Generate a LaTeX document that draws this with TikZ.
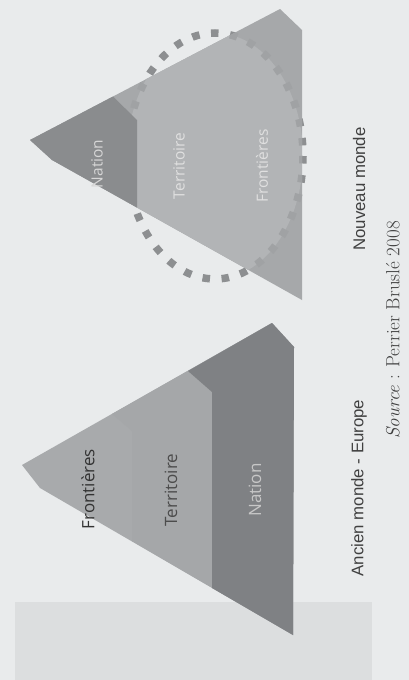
\documentclass[tikz,border=0pt]{standalone}
\usepackage{fontspec}
\newfontfamily\lblfont{Open Sans}
\newfontfamily\capfont{Liberation Sans}
\definecolor{bgc}{HTML}{E9EBEC}
\definecolor{rectc}{HTML}{DCDEDF}
\definecolor{lfr}{HTML}{A8AAAC}
\definecolor{lte}{HTML}{A5A7A9}
\definecolor{lna}{HTML}{7F8184}
\definecolor{rna}{HTML}{8A8C8E}
\definecolor{rte}{HTML}{B2B4B6}
\definecolor{rfr}{HTML}{A6A8AA}
\definecolor{dotout}{HTML}{8D8F91}
\definecolor{dotin}{HTML}{A0A2A4}
\begin{document}
\begin{tikzpicture}[x=1pt,y=-1pt,
  lbl/.style={rotate=90, inner sep=0pt, font=\lblfont\fontsize{17}{17}\selectfont},
  rlbl/.style={rotate=90, inner sep=0pt, font=\lblfont\fontsize{15.5}{15.5}\selectfont},
  captxt/.style={rotate=90, inner sep=0pt, text=black!75, font=\capfont\fontsize{16.8}{16.8}\selectfont},
  dots/.style={line width=7.5pt, dash pattern=on 7.5pt off 11.6pt}]
\useasboundingbox (0,0) rectangle (409,680);
\fill[bgc] (0,0) rectangle (409,680);
\fill[rectc] (15,602) rectangle (372,680);
% ---- left triangle (Ancien monde)
\fill[lfr] (22,465) -- (272,323) -- (294,347) -- (293,635) -- (40,488) -- cycle;
\fill[lte] (112,414) -- (132,431) -- (132,541) -- (293,635) -- (294,347) -- (272,323) -- cycle;
\fill[lna] (188,371) -- (212,392) -- (212,588) -- (293,635) -- (294,347) -- (272,323) -- cycle;
% ---- right triangle (Nouveau monde)
\draw[dots, dotout] (215,156) ellipse [x radius=88, y radius=123];
\fill[rfr] (30,140) -- (280,9) -- (302,30) -- (302,300) -- (52,160) -- cycle;
\begin{scope}
  \clip (30,140) -- (280,9) -- (302,30) -- (302,300) -- (52,160) -- cycle;
  \fill[rte] (215,156) ellipse [x radius=88, y radius=123];
  \draw[dots, dotin] (215,156) ellipse [x radius=88, y radius=123];
\end{scope}
\fill[rna] (30,140) -- (113,96.5) -- (137,120) -- (137,207.6) -- (52,160) -- cycle;
% ---- labels
\node[lbl, text=black!80] (lfront) at (88,489) {Frontières};
\node[lbl, text=black!70] (lterr) at (171,490) {Territoire};
\node[lbl, text=white!78!black] (lnat) at (255,490) {Nation};
\node[rlbl, text=white!84!black] (rnat) at (97,164) {Nation};
\node[rlbl, text=white!88!black] (rterr) at (179,166) {Territoire};
\node[rlbl, text=white!88!black] (rfront) at (262,166) {Frontières};
\node[captxt] (ancien) at (359,488) {Ancien monde - Europe};
\node[captxt] (nouveau) at (359,189) {Nouveau monde};
\node[rotate=90, inner sep=0pt, text=black!75, font=\fontsize{19}{19}\selectfont] (src) at (393,330)
  {\textit{Source}~: Perrier Bruslé 2008};
\end{tikzpicture}
\end{document}
